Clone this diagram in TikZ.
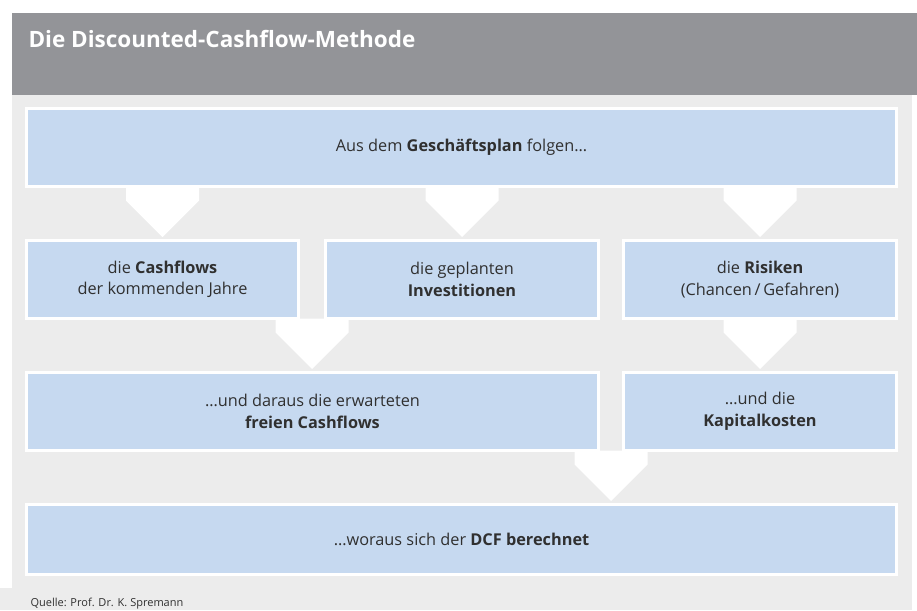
\documentclass[tikz,border=0pt]{standalone}
\usepackage{fontspec}
\setmainfont{Open Sans}
\usetikzlibrary{calc}
\definecolor{hdrgray}{HTML}{939498}
\definecolor{panelgray}{HTML}{ECECEC}
\definecolor{boxblue}{HTML}{C6D9F0}
\definecolor{txt}{HTML}{303030}
\begin{document}
\begin{tikzpicture}[x=1pt,y=-1pt,
  box/.style={draw=white,line width=3pt,fill=boxblue,inner sep=0pt,outer sep=0pt,
    align=center,text=txt,font=\fontsize{16.3}{21.5}\selectfont},
  downarrow/.pic={\fill[white] (-36.5,0) -- (36.5,0) -- (36.5,14) -- (0,50.5) -- (-36.5,14) -- cycle;}
]
\useasboundingbox (0,0) rectangle (917,610);
\fill[white] (0,0) rectangle (917,610);
\fill[hdrgray] (12,13) rectangle (917,95);
\fill[panelgray] (12,95) rectangle (912,610);
\fill[panelgray] (0,588) rectangle (912,610);
\node[anchor=base west,text=white,font=\fontsize{22.5}{26}\selectfont\bfseries] (title) at (25,48) {Die Discounted-Cashflow-Methode};

\node[box,minimum width=870,minimum height=78] (top) at (461.5,147.5) {Aus dem \textbf{Geschäftsplan} folgen…};

\node[box,minimum width=272,minimum height=78] (cf) at (162.5,279.5) {die \textbf{Cashflows}\\der kommenden Jahre};
\node[box,minimum width=273,minimum height=78] (inv) at (462,279.5) {die geplanten\\\textbf{Investitionen}};
\node[box,minimum width=273,minimum height=78] (ris) at (760,279.5) {die \textbf{Risiken}\\(Chancen\,/\,Gefahren)};

\node[box,minimum width=572,minimum height=78] (fcf) at (312.5,411.5) {…und daraus die erwarteten\\\textbf{freien Cashflows}};
\node[box,minimum width=273,minimum height=78] (kk) at (760,411.5) {…und die\\\textbf{Kapitalkosten}};

\node[box,minimum width=870,minimum height=70] (dcf) at (461.5,539.5) {…woraus sich der \textbf{DCF berechnet}};

\pic at (top.south -| cf.south) {downarrow};
\pic at (top.south -| inv.south) {downarrow};
\pic at (top.south -| ris.south) {downarrow};
\coordinate (gap1) at ($(cf.south east)!0.5!(inv.south west)$);
\pic at (gap1) {downarrow};
\pic at (ris.south) {downarrow};
\coordinate (gap2) at ($(fcf.south east)!0.5!(kk.south west)$);
\pic at (gap2) {downarrow};

\node[anchor=base west,text=txt,font=\fontsize{11}{13}\selectfont] (src) at (27,606.5) {Quelle: Prof. Dr. K. Spremann};
\end{tikzpicture}
\end{document}
